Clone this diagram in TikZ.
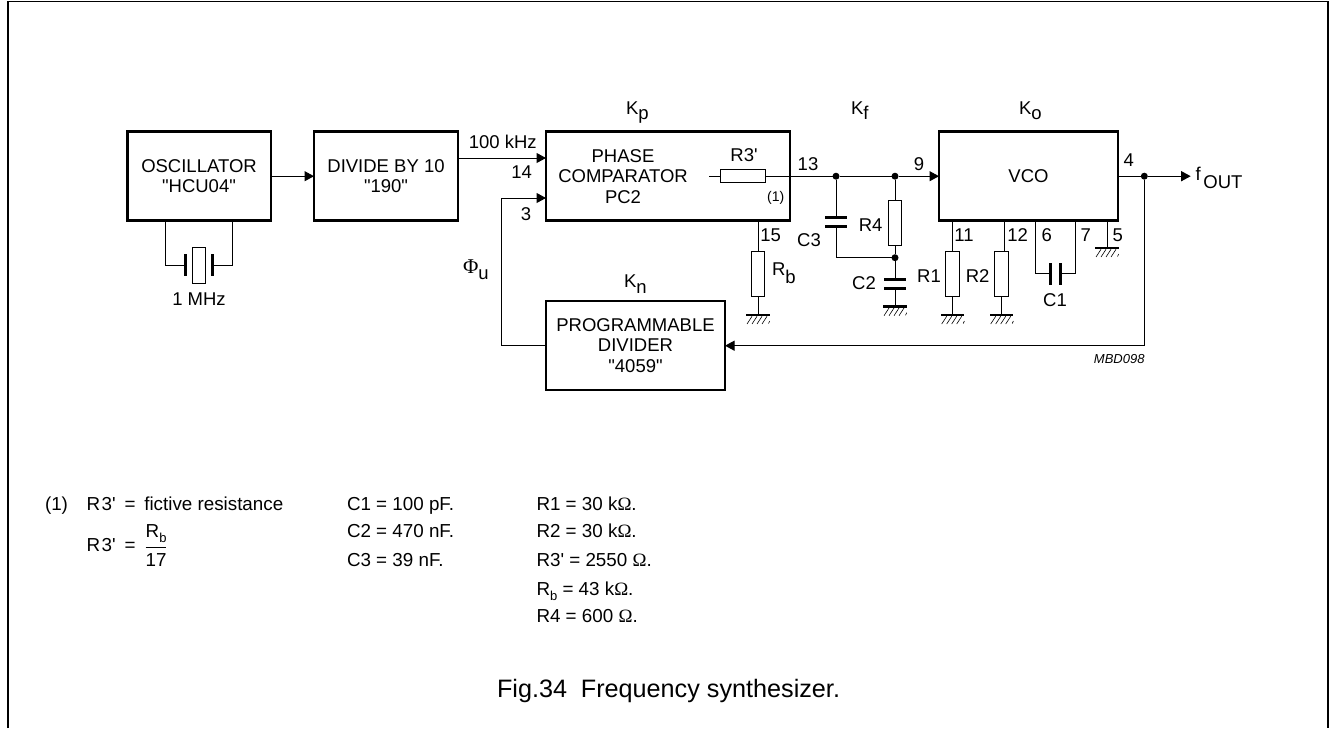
\documentclass[tikz,border=0pt]{standalone}
\usepackage{fontspec}
\setmainfont{Liberation Sans}[Ligatures=TeXOff]
\newfontfamily\serifsym{Liberation Serif}
\usetikzlibrary{arrows.meta,calc}
\newcommand{\lowsub}[3]{#1\raisebox{-#3pt}{#2}}
\newcommand{\ohm}{{\serifsym\symbol{"03A9}}}
\newcommand{\smallb}{\raisebox{-5pt}{\fontsize{13}{15}\selectfont b}}
\tikzset{
  x=1pt,y=-1pt,
  every node/.style={inner sep=0pt,outer sep=0pt},
  wire/.style={line width=1pt,line join=miter},
  arrowed/.style={wire,-{Triangle[length=9.5pt,width=10pt]}},
  block/.style={draw,line width=2.5pt,minimum width=#1,align=center},
  txt/.style={font=\fontsize{18.5}{20.5}\selectfont,anchor=base},
  txtl/.style={font=\fontsize{18.5}{20.5}\selectfont,anchor=base west},
  note/.style={font=\fontsize{18.8}{20.5}\selectfont,anchor=base west},
  res/.style={draw,line width=1pt,minimum width=13.5pt,minimum height=44.5pt},
  resh/.style={draw,line width=1pt,minimum width=45pt,minimum height=13.5pt},
  plateh/.style={fill=black,minimum width=22pt,minimum height=3pt},
  platev/.style={fill=black,minimum width=3pt,minimum height=22pt},
  dot/.style={circle,fill=black,minimum size=7pt},
  gnd/.pic={
    \fill[black] (-11.7,-1.3) rectangle (11.7,1.3);
    \foreach \d in {-6,-1,4,9}{\draw[line width=.6pt] (\d,1.3) -- (\d-5,9);}
    \draw[line width=.6pt] (11.7,6) -- (10.5,8.5);
  }
}
\begin{document}
\begin{tikzpicture}
\useasboundingbox (0,0) rectangle (1329,728);
\draw[line width=1.8pt,black] (7.6,728) -- (7.6,1.4) -- (1328,1.4) -- (1328,728);
% blocks
\node[block=143.5pt,minimum height=89pt,txt,anchor=center] (osc) at (199,176.2) {OSCILLATOR\\"HCU04"};
\node[block=144pt,minimum height=89pt,txt,anchor=center] (div) at (386,176.2) {DIVIDE BY 10\\"190"};
\node[block=244pt,minimum height=89pt] (pc) at (668,176.2) {};
\node[block=179pt,minimum height=89pt,txt,anchor=center] (prog) at (635.5,345.5) {PROGRAMMABLE\\DIVIDER\\"4059"};
\node[block=179pt,minimum height=89pt,txt,anchor=center] (vco) at (1028.5,176.2) {VCO};
\node[txt,align=center,anchor=center] (pctext) at (623,176.2) {PHASE\\COMPARATOR\\PC2};
% crystal
\node[draw,line width=1pt,minimum width=13.5pt,minimum height=36pt] (xtal) at (199,265) {};
\node[platev] (xl) at (185.5,265) {};
\node[platev] (xr) at (212,265) {};
\draw[wire] (xl.west) -| ($(osc.south west)+(38.5,0)$);
\draw[wire] (xr.east) -| ($(osc.south west)+(105,0)$);
\node[txt] (xlabel) at (199,305.5) {1 MHz};
% top signal path
\draw[arrowed] (osc.east) -- (div.west);
\coordinate (in14) at (458,158);
\coordinate (in14e) at (546,158);
\draw[arrowed] (in14) -- (in14e);
\node[txt] (l100) at (502.7,148.7) {100 kHz};
\node[txt] (l14) at (521.7,178) {14};
\coordinate (in3) at (546,198);
\coordinate (fbl) at (501.7,345.7);
\draw[arrowed] (prog.west |- fbl) -- (fbl) |- (in3);
\node[txt] (l3) at (526,220.7) {3};
\node[txtl] (lphi) at (463,273) {{\fontsize{21}{23}\selectfont\serifsym\symbol{"03A6}}\raisebox{-6pt}{u}};
% R3'
\node[resh] (r3) at (743.2,176.2) {};
\coordinate (r3l) at (709,176.2);
\node[txt] (lr3) at (744,161.7) {R3'};
\node[txt,font=\fontsize{14}{16}\selectfont] (l1) at (775.7,201) {(1)};
\draw[wire] (r3l) -- (r3.west);
\node[dot] (d1) at (836,176.2) {};
\node[dot] (d2) at (895,176.2) {};
\draw[wire] (r3.east) -- (d1) -- (d2);
\draw[arrowed] (d2) -- (vco.west);
\node[txt] (l13) at (808,170) {13};
\node[txt] (l9) at (919,170) {9};
% labels K
\node[txtl] (kp) at (626,114) {\lowsub{K}{p}{5}};
\node[txtl] (kf) at (851,114) {\lowsub{K}{f}{5}};
\node[txtl] (ko) at (1019,114) {\lowsub{K}{o}{5}};
\node[txtl] (kn) at (624,287) {\lowsub{K}{n}{6}};
% Rb
\node[res] (rb) at (758,274) {};
\coordinate (grb) at (758,315);
\draw[wire] (rb.north) -- (rb.north |- pc.south);
\draw[wire] (rb.south) -- (grb);
\pic at (grb) {gnd};
\node[txt] (l15) at (770.7,241) {15};
\node[txtl] (lrb) at (772,275) {R\raisebox{-8pt}{b}};
% C3
\node[plateh] (c3a) at (836,217.3) {};
\node[plateh] (c3b) at (836,226) {};
\node[txt] (lc3) at (809,246.7) {C3};
\node[dot] (d3) at (895,257.7) {};
\draw[wire] (d1) -- (c3a);
\draw[wire] (c3b) |- (d3);
% R4
\node[res] (r4) at (895,223) {};
\draw[wire] (d2) -- (r4.north);
\draw[wire] (r4.south) -- (d3);
\node[txt] (lr4) at (870.7,231.7) {R4};
% C2
\node[plateh] (c2a) at (895,279) {};
\node[plateh] (c2b) at (895,288.3) {};
\coordinate (gc2) at (895,306.7);
\draw[wire] (d3) -- (c2a);
\draw[wire] (c2b) -- (gc2);
\pic at (gc2) {gnd};
\node[txt] (lc2) at (864,289) {C2};
% R1
\node[res] (r1) at (952.7,274) {};
\coordinate (gr1) at (952.7,315);
\draw[wire] (r1.north) -- (r1.north |- vco.south);
\draw[wire] (r1.south) -- (gr1);
\pic at (gr1) {gnd};
\node[txt] (l11) at (964,241) {11};
\node[txt] (lr1) at (929,282.7) {R1};
% R2
\node[res] (r2) at (1001.7,274) {};
\coordinate (gr2) at (1001.7,315);
\coordinate (p12) at (1004,251.7);
\draw[wire] (p12) -- (p12 |- vco.south);
\draw[wire] (r2.south) -- (gr2);
\pic at (gr2) {gnd};
\node[txt] (l12) at (1017.7,241) {12};
\node[txt] (lr2) at (977.7,282.7) {R2};
% C1
\node[platev] (c1a) at (1050.7,273.7) {};
\node[platev] (c1b) at (1060,273.7) {};
\coordinate (p6) at (1035.3,221);
\coordinate (p7) at (1075.7,221);
\draw[wire] (c1a) -| (p6);
\draw[wire] (c1b) -| (p7);
\node[txt] (l6) at (1046.7,241) {6};
\node[txt] (l7) at (1085.7,241) {7};
\node[txt] (lc1) at (1055,306.7) {C1};
% pin 5
\coordinate (g5) at (1107,248);
\draw[wire] (g5) -- (g5 |- vco.south);
\pic at (g5) {gnd};
\node[txt] (l5) at (1117.7,241) {5};
% output
\node[dot] (d4) at (1144.3,176.2) {};
\coordinate (out) at (1190.7,176.2);
\draw[wire] (vco.east) -- (d4);
\draw[arrowed] (d4) -- (out);
\node[txt] (l4) at (1128.7,166.7) {4};
\node[txtl] (lout) at (1195.7,180.7) {f\hspace{2.5pt}\raisebox{-8pt}{OUT}};
\coordinate (fbr) at (1144.3,345.7);
\draw[arrowed] (d4) |- (prog.east |- fbr);
\node[anchor=base east,font=\fontsize{13}{15}\selectfont\itshape] (mbd) at (1144.5,363.5) {MBD098};
% notes
\node[note] (n1) at (45,510.3) {(1)};
\node[note] (n2) at (86.5,510.3) {R\hspace{1.5pt}3'};
\node[note] (n3) at (124.5,510.3) {=};
\node[note] (n4) at (144.3,510.3) {fictive resistance};
\node[note] (n5) at (86.5,551) {R\hspace{1.5pt}3'};
\node[note] (n6) at (124.5,551) {=};
\node[note] (n7) at (145.7,537) {R\smallb};
\node[note] (n8) at (145.7,566.7) {17};
\coordinate (barr) at (166,547.5);
\draw[line width=1.2pt] (n8.west |- barr) -- (barr);
\node[note] (c1) at (347,510.3) {C1 = 100 pF.};
\node[note] (c2) at (347,537.9) {C2 = 470 nF.};
\node[note] (c3) at (347,566.7) {C3 = 39 nF.};
\node[note] (e1) at (536.5,510.3) {R1 = 30 k\ohm.};
\node[note] (e2) at (536.5,537.9) {R2 = 30 k\ohm.};
\node[note] (e3) at (536.5,566.7) {R3' = 2550 \ohm.};
\node[note] (e4) at (536.5,595) {R\smallb{} = 43 k\ohm.};
\node[note] (e5) at (536.5,622.7) {R4 = 600 \ohm.};
\node[anchor=base west,font=\fontsize{25.2}{27}\selectfont] (cap) at (497,697.2) {Fig.34\hspace{.55em}Frequency synthesizer.};
\end{tikzpicture}
\end{document}
